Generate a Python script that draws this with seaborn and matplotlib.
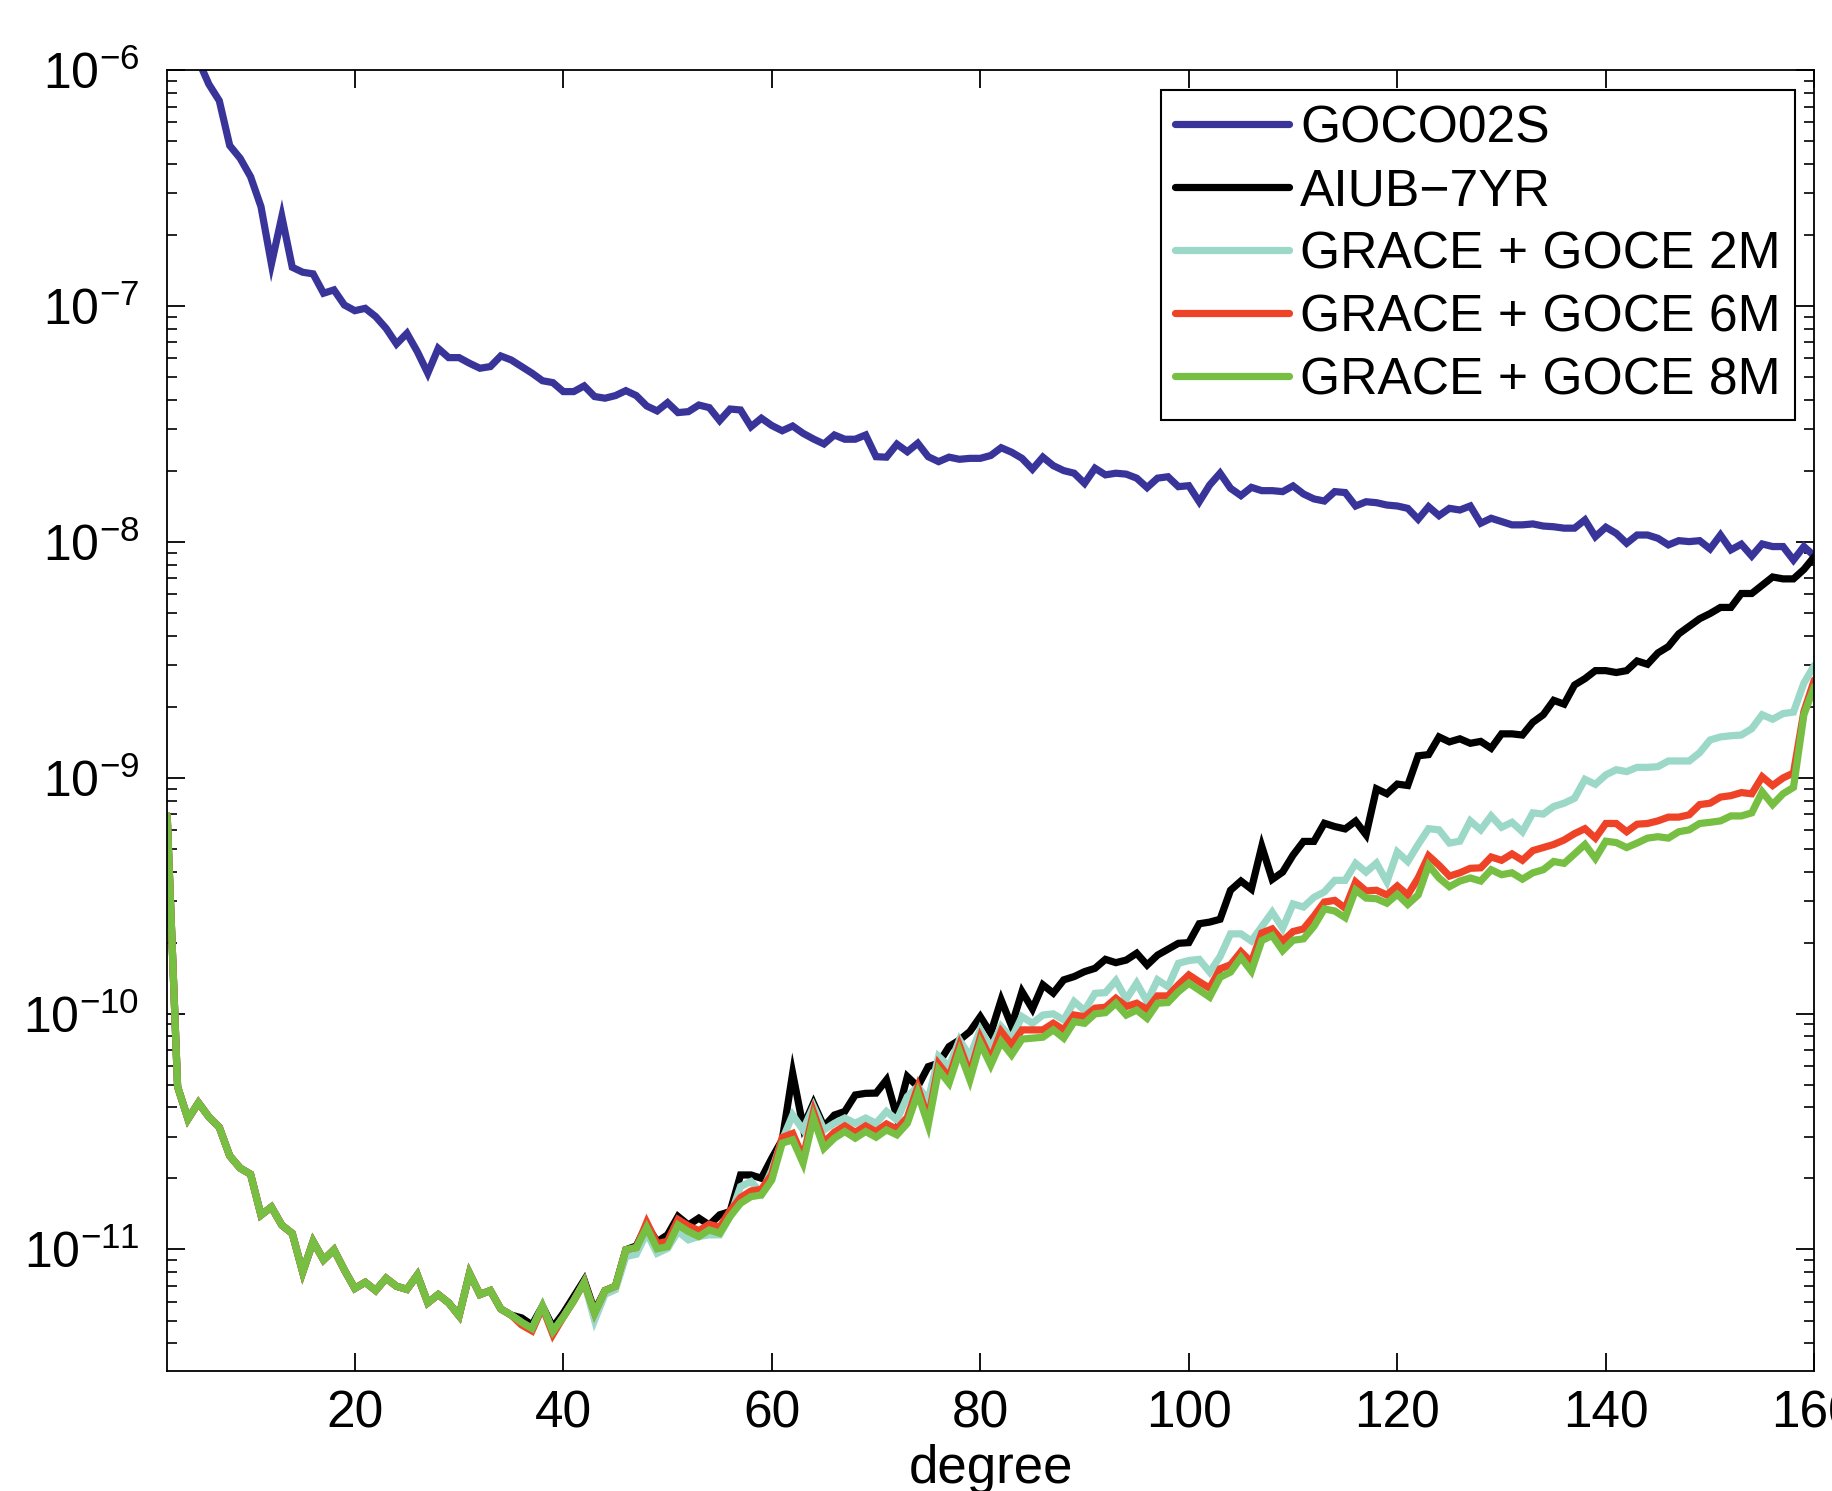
import numpy as np
import pandas as pd
import matplotlib
matplotlib.use("Agg")
import matplotlib.pyplot as plt
import seaborn as sns
from matplotlib.ticker import LogLocator, NullFormatter, FixedLocator

# ---------------- data (log10 of value, degree 2..160) ----------------
degrees = list(range(2, 161))

goco02s_log10 = [
    -5.40, -5.60, -5.80, -5.96, -6.06, -6.13, -6.32, -6.374, -6.452, -6.579,
    -6.822, -6.621, -6.836, -6.857, -6.864, -6.946, -6.932, -6.996, -7.020, -7.010,
    -7.045, -7.095, -7.161, -7.116, -7.194, -7.285, -7.180, -7.219, -7.219, -7.243,
    -7.264, -7.257, -7.212, -7.229, -7.257, -7.285, -7.317, -7.325, -7.363, -7.363,
    -7.339, -7.384, -7.391, -7.380, -7.359, -7.380, -7.424, -7.445, -7.410, -7.452,
    -7.448, -7.420, -7.431, -7.486, -7.437, -7.441, -7.512, -7.476, -7.507, -7.529,
    -7.509, -7.540, -7.564, -7.585, -7.547, -7.565, -7.565, -7.547, -7.639, -7.641,
    -7.586, -7.618, -7.582, -7.639, -7.660, -7.641, -7.650, -7.646, -7.646, -7.634,
    -7.601, -7.620, -7.646, -7.692, -7.641, -7.677, -7.698, -7.709, -7.752, -7.688,
    -7.716, -7.709, -7.713, -7.730, -7.770, -7.730, -7.724, -7.766, -7.762, -7.830,
    -7.759, -7.709, -7.773, -7.804, -7.769, -7.783, -7.783, -7.787, -7.763, -7.797,
    -7.818, -7.827, -7.787, -7.791, -7.848, -7.830, -7.834, -7.844, -7.848, -7.858,
    -7.904, -7.851, -7.889, -7.858, -7.865, -7.848, -7.921, -7.900, -7.914, -7.928,
    -7.928, -7.924, -7.933, -7.936, -7.942, -7.942, -7.907, -7.978, -7.938, -7.964,
    -8.006, -7.971, -7.971, -7.985, -8.013, -7.995, -7.999, -7.995, -8.030, -7.971,
    -8.034, -8.010, -8.060, -8.009, -8.020, -8.020, -8.077, -8.020, -8.060,
]

aiub_7yr_log10 = [
    -9.16, -10.31, -10.447, -10.378, -10.438, -10.482, -10.603, -10.655, -10.681, -10.854,
    -10.820, -10.897, -10.932, -11.096, -10.966, -11.044, -11.001, -11.087, -11.165, -11.139,
    -11.174, -11.122, -11.156, -11.169, -11.108, -11.226, -11.191, -11.226, -11.281, -11.101,
    -11.191, -11.174, -11.252, -11.278, -11.290, -11.320, -11.240, -11.330, -11.270, -11.200,
    -11.130, -11.260, -11.174, -11.156, -11.001, -10.985, -10.896, -10.967, -10.938, -10.860,
    -10.896, -10.867, -10.896, -10.853, -10.839, -10.684, -10.684, -10.698, -10.613, -10.535,
    -10.253, -10.479, -10.380, -10.479, -10.430, -10.415, -10.345, -10.338, -10.337, -10.281,
    -10.437, -10.267, -10.309, -10.225, -10.210, -10.140, -10.112, -10.076, -10.013, -10.083,
    -9.942, -10.052, -9.907, -9.980, -9.878, -9.913, -9.857, -9.843, -9.822, -9.808,
    -9.770, -9.784, -9.773, -9.744, -9.794, -9.752, -9.727, -9.702, -9.699, -9.619,
    -9.612, -9.600, -9.477, -9.438, -9.472, -9.291, -9.431, -9.400, -9.328, -9.270,
    -9.270, -9.193, -9.207, -9.217, -9.184, -9.242, -9.047, -9.068, -9.027, -9.033,
    -8.907, -8.902, -8.827, -8.848, -8.835, -8.854, -8.846, -8.875, -8.814, -8.814,
    -8.819, -8.765, -8.733, -8.672, -8.688, -8.607, -8.580, -8.546, -8.546, -8.554,
    -8.546, -8.505, -8.519, -8.471, -8.444, -8.390, -8.358, -8.326, -8.304, -8.278,
    -8.278, -8.219, -8.219, -8.184, -8.149, -8.157, -8.157, -8.117, -8.063,
]

grace_goce_2m_log10 = [
    -9.16, -10.31, -10.447, -10.378, -10.438, -10.482, -10.603, -10.655, -10.681, -10.854,
    -10.820, -10.897, -10.932, -11.096, -10.966, -11.044, -11.001, -11.087, -11.165, -11.139,
    -11.174, -11.122, -11.156, -11.169, -11.108, -11.226, -11.191, -11.226, -11.281, -11.101,
    -11.191, -11.174, -11.252, -11.278, -11.309, -11.335, -11.240, -11.347, -11.286, -11.217,
    -11.139, -11.300, -11.190, -11.170, -11.030, -11.020, -10.930, -11.016, -10.995, -10.924,
    -10.959, -10.945, -10.938, -10.938, -10.860, -10.733, -10.712, -10.761, -10.663, -10.535,
    -10.430, -10.493, -10.394, -10.493, -10.465, -10.443, -10.465, -10.443, -10.465, -10.415,
    -10.451, -10.352, -10.309, -10.366, -10.182, -10.225, -10.112, -10.182, -10.069, -10.147,
    -10.055, -10.105, -10.013, -10.041, -10.006, -10.001, -10.027, -9.949, -9.987, -9.914,
    -9.911, -9.860, -9.939, -9.871, -9.949, -9.857, -9.886, -9.787, -9.775, -9.770,
    -9.824, -9.758, -9.662, -9.662, -9.692, -9.631, -9.570, -9.638, -9.535, -9.548,
    -9.507, -9.484, -9.435, -9.435, -9.363, -9.400, -9.362, -9.441, -9.315, -9.355,
    -9.283, -9.216, -9.221, -9.277, -9.269, -9.183, -9.221, -9.162, -9.210, -9.189,
    -9.229, -9.149, -9.154, -9.122, -9.108, -9.087, -9.007, -9.028, -8.988, -8.966,
    -8.974, -8.956, -8.956, -8.953, -8.929, -8.929, -8.929, -8.894, -8.840, -8.827,
    -8.822, -8.819, -8.792, -8.733, -8.752, -8.728, -8.722, -8.599, -8.524,
]

grace_goce_6m_log10 = [
    -9.16, -10.31, -10.447, -10.378, -10.438, -10.482, -10.603, -10.655, -10.681, -10.854,
    -10.820, -10.897, -10.932, -11.096, -10.966, -11.044, -11.001, -11.087, -11.165, -11.139,
    -11.174, -11.122, -11.156, -11.169, -11.108, -11.226, -11.191, -11.226, -11.281, -11.101,
    -11.191, -11.174, -11.252, -11.278, -11.320, -11.345, -11.245, -11.360, -11.286, -11.217,
    -11.139, -11.269, -11.174, -11.156, -11.001, -10.992, -10.885, -10.975, -10.965, -10.873,
    -10.900, -10.920, -10.893, -10.906, -10.836, -10.780, -10.752, -10.745, -10.682, -10.525,
    -10.508, -10.610, -10.418, -10.546, -10.503, -10.476, -10.503, -10.476, -10.500, -10.468,
    -10.490, -10.440, -10.312, -10.448, -10.214, -10.270, -10.136, -10.256, -10.101, -10.193,
    -10.076, -10.133, -10.069, -10.069, -10.069, -10.041, -10.069, -10.006, -10.013, -9.977,
    -9.973, -9.935, -9.970, -9.956, -9.982, -9.925, -9.925, -9.878, -9.836, -9.865,
    -9.892, -9.810, -9.793, -9.738, -9.782, -9.658, -9.641, -9.693, -9.652, -9.641,
    -9.587, -9.527, -9.520, -9.553, -9.442, -9.480, -9.477, -9.497, -9.459, -9.497,
    -9.425, -9.331, -9.371, -9.417, -9.403, -9.384, -9.382, -9.336, -9.350, -9.323,
    -9.350, -9.309, -9.296, -9.283, -9.264, -9.237, -9.216, -9.256, -9.194, -9.194,
    -9.229, -9.197, -9.194, -9.183, -9.167, -9.167, -9.157, -9.114, -9.108, -9.082,
    -9.076, -9.063, -9.068, -8.996, -9.033, -9.001, -8.980, -8.720, -8.586,
]

grace_goce_8m_log10 = [
    -9.16, -10.31, -10.447, -10.378, -10.438, -10.482, -10.603, -10.655, -10.681, -10.854,
    -10.820, -10.897, -10.932, -11.096, -10.966, -11.044, -11.001, -11.087, -11.165, -11.139,
    -11.174, -11.122, -11.156, -11.169, -11.108, -11.226, -11.191, -11.226, -11.281, -11.101,
    -11.191, -11.174, -11.252, -11.278, -11.309, -11.335, -11.240, -11.347, -11.286, -11.217,
    -11.139, -11.269, -11.174, -11.156, -11.001, -10.992, -10.907, -10.997, -10.988, -10.896,
    -10.924, -10.945, -10.917, -10.931, -10.860, -10.804, -10.776, -10.769, -10.705, -10.549,
    -10.535, -10.634, -10.443, -10.571, -10.528, -10.500, -10.528, -10.500, -10.524, -10.493,
    -10.514, -10.465, -10.337, -10.472, -10.239, -10.295, -10.161, -10.281, -10.126, -10.218,
    -10.119, -10.175, -10.108, -10.104, -10.100, -10.069, -10.104, -10.034, -10.041, -10.001,
    -9.996, -9.956, -10.006, -9.985, -10.020, -9.956, -9.953, -9.907, -9.871, -9.900,
    -9.930, -9.846, -9.824, -9.762, -9.820, -9.690, -9.669, -9.733, -9.689, -9.683,
    -9.630, -9.556, -9.565, -9.593, -9.476, -9.510, -9.513, -9.532, -9.494, -9.537,
    -9.497, -9.371, -9.425, -9.462, -9.438, -9.425, -9.438, -9.390, -9.411, -9.403,
    -9.430, -9.403, -9.390, -9.355, -9.363, -9.323, -9.283, -9.342, -9.269, -9.275,
    -9.296, -9.277, -9.256, -9.250, -9.256, -9.229, -9.221, -9.194, -9.189, -9.183,
    -9.162, -9.162, -9.149, -9.060, -9.114, -9.068, -9.041, -8.733, -8.613,
]

series_names = ["GOCO02S", "AIUB\u22127YR", "GRACE + GOCE 2M", "GRACE + GOCE 6M", "GRACE + GOCE 8M"]
series_log10 = [goco02s_log10, aiub_7yr_log10, grace_goce_2m_log10, grace_goce_6m_log10, grace_goce_8m_log10]
series_colors = ["#39349a", "#000000", "#9bd8c7", "#ef4328", "#76bf43"]

x_ticks = [20, 40, 60, 80, 100, 120, 140, 160]

# ---------------- style ----------------
sns.set_style("white")
plt.rcParams["font.family"] = ["Liberation Sans", "DejaVu Sans"]
plt.rcParams["mathtext.fontset"] = "custom"
plt.rcParams["mathtext.rm"] = "Liberation Sans"
plt.rcParams["mathtext.it"] = "Liberation Sans:italic"
plt.rcParams["mathtext.bf"] = "Liberation Sans:bold"
plt.rcParams["mathtext.default"] = "regular"
plt.rcParams["axes.unicode_minus"] = True
for key in ["text.color", "axes.labelcolor", "xtick.color", "ytick.color", "axes.edgecolor"]:
    plt.rcParams[key] = "black"

fig = plt.figure(figsize=(18.33, 14.91), dpi=100)
ax = fig.add_axes([0.0912, 0.0805, 0.8986, 0.8725])

for name, vals, col in zip(series_names, series_log10, series_colors):
    df = pd.DataFrame({"degree": degrees, "value": np.power(10.0, np.array(vals))})
    sns.lineplot(data=df, x="degree", y="value", color=col, linewidth=5.2,
                 label=name, ax=ax, estimator=None, solid_joinstyle="miter")

ax.set_yscale("log")
ax.set_xlim(2, 160)
ax.set_ylim(10 ** -11.515, 1e-6)

ax.xaxis.set_major_locator(FixedLocator(x_ticks))
ax.yaxis.set_major_locator(LogLocator(base=10, numticks=20))
ax.yaxis.set_minor_locator(LogLocator(base=10, subs=np.arange(2, 10), numticks=100))
ax.yaxis.set_minor_formatter(NullFormatter())

ax.tick_params(axis="both", which="both", direction="in", top=True, right=True,
               bottom=True, left=True, colors="black")
ax.tick_params(axis="both", which="major", length=13, width=1.3)
ax.tick_params(axis="x", which="major", labelsize=37, pad=13)
ax.tick_params(axis="y", which="major", labelsize=36, pad=20)
ax.tick_params(axis="y", which="minor", length=7, width=1.2)

for sp in ax.spines.values():
    sp.set_visible(True)
    sp.set_color("black")
    sp.set_linewidth(1.3)

ax.set_xlabel("degree", fontsize=38, labelpad=4, color="black")
ax.set_ylabel("")

leg = ax.legend(loc="upper right", bbox_to_anchor=(0.9885, 0.9846), borderaxespad=0,
                fontsize=37.2, handlelength=2.2, handletextpad=0.22, labelspacing=0.27,
                borderpad=0.28, frameon=True, fancybox=False, framealpha=1)
leg.get_frame().set_edgecolor("black")
leg.get_frame().set_linewidth(1.5)
for t in leg.get_texts():
    t.set_color("black")
for h in leg.get_lines():
    h.set_linewidth(5.2)

fig.savefig("out.png", dpi=100, facecolor="white")
